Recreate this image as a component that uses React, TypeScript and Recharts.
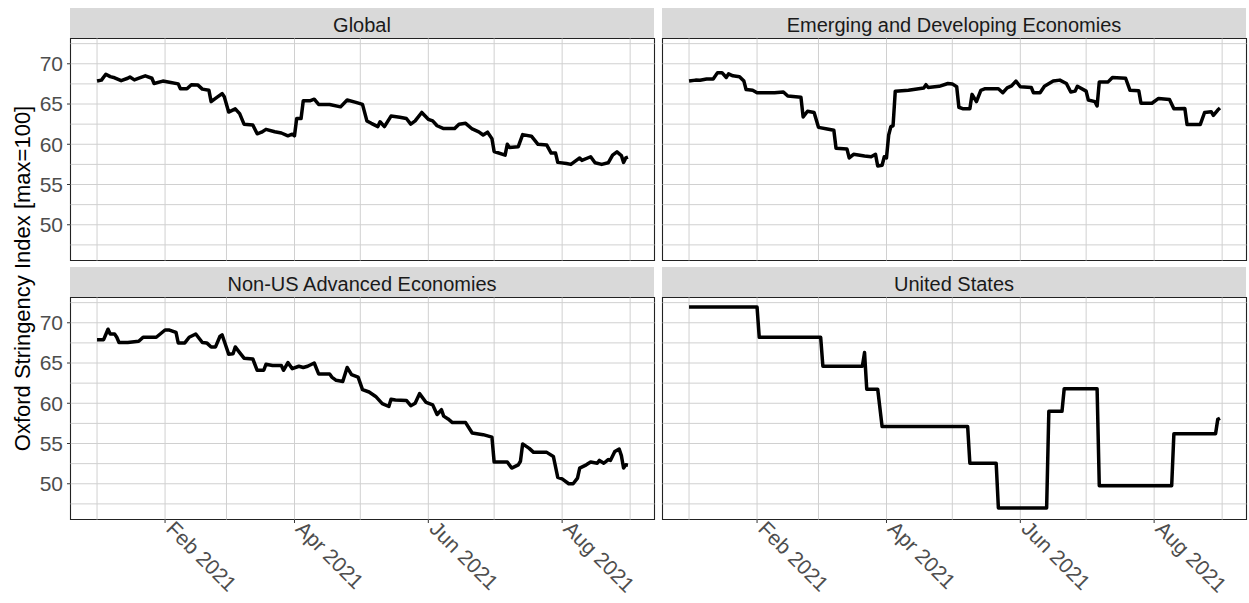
import React from 'react';
import { LineChart, Line, XAxis, YAxis, ReferenceLine, ReferenceArea } from 'recharts';

// x = days since 1 Jan 2021, y = Oxford Stringency Index
const globalSeries: [number, number][] = [
  [0, 67.85], [2, 67.97], [4, 68.7], [6, 68.4], [8, 68.26], [11, 67.9], [14, 68.2], [15, 68.35], [17, 68.0], [20, 68.3],
  [22, 68.5], [25, 68.2], [26, 67.55], [30, 67.85], [33, 67.7], [37, 67.5], [38, 66.9], [41, 66.9], [43, 67.4], [46, 67.35],
  [48, 66.85], [51, 66.7], [52, 65.3], [54, 65.7], [57, 66.3], [58, 65.9], [60, 64.0], [63, 64.4], [65, 63.8], [67, 62.5],
  [71, 62.4], [73, 61.3], [75, 61.5], [77, 61.85], [81, 61.55], [84, 61.4], [87, 61.05], [89, 61.25], [90, 61.05], [91, 63.2],
  [93, 63.2], [94, 65.4], [97, 65.4], [99, 65.6], [101, 64.95], [106, 64.95], [111, 64.65], [114, 65.5], [118, 65.2], [121, 64.95],
  [123, 62.9], [125, 62.6], [128, 62.2], [129, 62.8], [131, 62.2], [134, 63.5], [138, 63.35], [141, 63.2], [143, 62.5], [145, 62.9],
  [148, 63.95], [151, 63.1], [153, 62.9], [155, 62.3], [158, 61.95], [163, 61.95], [165, 62.5], [168, 62.6], [171, 61.9], [174, 61.55],
  [176, 61.15], [178, 61.5], [180, 60.7], [181, 59.1], [186, 58.65], [187, 60.0], [188, 59.6], [192, 59.7], [194, 61.2], [198, 61.0],
  [201, 60.0], [205, 59.9], [207, 58.9], [209, 58.9], [210, 57.75], [214, 57.6], [216, 57.5], [220, 58.3], [221, 58.0], [225, 58.45],
  [227, 57.7], [230, 57.5], [233, 57.7], [235, 58.65], [237, 59.05], [239, 58.6], [240, 57.75], [241, 58.3], [242, 58.4],
];

const emergingSeries: [number, number][] = [
  [0, 67.85], [3, 67.97], [5, 67.95], [8, 68.1], [11, 68.1], [13, 68.9], [15, 68.9], [17, 68.3], [18, 68.75], [20, 68.5],
  [23, 68.4], [25, 67.85], [26, 66.8], [29, 66.7], [31, 66.4], [39, 66.4], [43, 66.5], [45, 66.0], [51, 65.85], [52, 63.4],
  [54, 64.1], [57, 63.95], [59, 62.1], [63, 61.9], [66, 61.75], [67, 59.5], [72, 59.4], [73, 58.3], [75, 58.75], [80, 58.55],
  [83, 58.45], [85, 58.75], [86, 57.3], [88, 57.4], [89, 58.45], [90, 58.3], [91, 61.15], [92, 62.2], [93, 62.3], [94, 66.6],
  [100, 66.7], [107, 67.0], [108, 67.4], [109, 67.05], [114, 67.2], [118, 67.55], [120, 67.5], [122, 67.15], [123, 64.6], [125, 64.4],
  [128, 64.4], [129, 66.2], [131, 65.3], [133, 66.7], [135, 66.9], [141, 66.9], [143, 66.4], [145, 67.0], [147, 67.25], [149, 67.85],
  [151, 67.15], [156, 67.05], [157, 66.4], [160, 66.4], [162, 67.2], [166, 67.85], [169, 67.97], [172, 67.55], [174, 66.5], [176, 66.6],
  [177, 67.2], [181, 66.6], [182, 65.5], [185, 65.3], [186, 64.75], [187, 67.75], [191, 67.75], [193, 68.3], [199, 68.2], [201, 66.7],
  [205, 66.65], [206, 65.1], [211, 65.1], [214, 65.7], [219, 65.55], [221, 64.4], [226, 64.45], [227, 62.45], [233, 62.45], [235, 63.95],
  [238, 64.05], [239, 63.6], [241, 64.25], [242, 64.5],
];

const nonUsSeries: [number, number][] = [
  [0, 67.9], [2, 67.9], [3, 67.9], [5, 69.2], [6, 68.6], [8, 68.6], [9, 68.2], [10, 67.55], [14, 67.55], [19, 67.7],
  [21, 68.2], [27, 68.2], [31, 69.1], [33, 69.1], [36, 68.8], [37, 67.5], [40, 67.5], [42, 68.2], [45, 68.6], [48, 67.55],
  [50, 67.5], [52, 67.0], [54, 67.0], [56, 68.3], [57, 68.5], [58, 67.7], [60, 66.1], [62, 66.15], [63, 67.0], [65, 66.3],
  [67, 65.6], [71, 65.5], [73, 64.1], [76, 64.1], [77, 64.85], [80, 64.7], [84, 64.7], [85, 64.1], [87, 65.05], [89, 64.3],
  [92, 64.6], [94, 64.45], [96, 64.6], [99, 65.0], [101, 63.65], [106, 63.65], [107, 63.25], [109, 62.85], [112, 62.7], [114, 64.45],
  [116, 63.55], [119, 63.25], [121, 61.7], [124, 61.4], [127, 60.85], [130, 59.95], [133, 59.6], [134, 60.5], [136, 60.4], [141, 60.35],
  [143, 59.7], [145, 60.0], [147, 61.2], [150, 60.1], [153, 59.8], [155, 58.6], [157, 59.2], [158, 58.4], [160, 58.05], [162, 57.6],
  [168, 57.6], [171, 56.3], [176, 56.1], [180, 55.8], [181, 52.7], [187, 52.7], [189, 51.95], [192, 52.35], [193, 52.8], [194, 54.95],
  [197, 54.4], [199, 53.9], [205, 53.9], [208, 53.4], [210, 50.8], [212, 50.6], [215, 50.0], [217, 50.0], [219, 50.7], [220, 51.95],
  [223, 52.35], [225, 52.7], [228, 52.55], [229, 52.9], [231, 52.55], [233, 53.0], [234, 52.9], [236, 54.0], [238, 54.3], [239, 53.5],
  [240, 51.95], [241, 52.35], [242, 52.3],
];

const usSeries: [number, number][] = [
  [0, 71.95], [31, 71.95], [32, 68.2], [60, 68.2], [61, 64.6], [79, 64.6], [80, 66.3], [81, 61.75], [86, 61.75], [88, 57.1],
  [127, 57.1], [128, 52.55], [140, 52.55], [141, 47.0], [163, 47.0], [164, 59.0], [170, 59.0], [171, 61.8], [186, 61.8], [187, 49.75],
  [220, 49.75], [221, 56.2], [240, 56.2], [241, 58.0], [242, 58.15],
];

const panelTitles = ['Global', 'Emerging and Developing Economies', 'Non-US Advanced Economies', 'United States'];
const majorDays = [31, 90, 151, 212];
const majorLabels = ['Feb 2021', 'Apr 2021', 'Jun 2021', 'Aug 2021'];
const minorDays = [0, 59, 120, 181, 243];
const yMajor = [50, 55, 60, 65, 70];
const yMinor = [47.5, 52.5, 57.5, 62.5, 67.5, 72.5];

const X_DOMAIN: [number, number] = [-12.1, 254.1];
const Y_DOMAIN: [number, number] = [45.56, 73.14];
const PLOT_W = 584;
const PLOT_H = 222;
const FONT = '"Liberation Sans", Arial, sans-serif';
const GRID = '#d0d0d0';

const DateTick = ({ x, y, payload }: any) => {
  const i = majorDays.indexOf(payload.value);
  return (
    <text
      x={x}
      y={y}
      transform={`rotate(45, ${x}, ${y})`}
      textAnchor="start"
      dx={5}
      dy={5}
      fontSize={21}
      fontFamily={FONT}
      fill="#4d4d4d"
    >
      {i >= 0 ? majorLabels[i] : ''}
    </text>
  );
};

interface PanelProps {
  series: [number, number][];
  plotLeft: number;
  plotTop: number;
  showX: boolean;
  showY: boolean;
}

const Panel = ({ series, plotLeft, plotTop, showX, showY }: PanelProps) => {
  const rows = series.map(([day, value]) => ({ day, value }));
  const yw = showY ? 70 : 0;
  const xh = showX ? 82 : 0;
  return (
    <div style={{ position: 'absolute', left: plotLeft - yw - 3, top: plotTop - 3 }}>
      <LineChart
        width={yw + PLOT_W + 6}
        height={PLOT_H + xh + 6}
        data={rows}
        margin={{ top: 3.5, right: 2.5, bottom: 2.5, left: 3.5 }}
      >
        <XAxis
          type="number"
          dataKey="day"
          domain={X_DOMAIN}
          ticks={majorDays}
          allowDataOverflow
          hide={!showX}
          height={xh}
          axisLine={false}
          tickLine={{ stroke: '#333333' }}
          tickSize={3.5}
          tickMargin={0}
          tick={<DateTick />}
          interval={0}
        />
        <YAxis
          type="number"
          domain={Y_DOMAIN}
          ticks={yMajor}
          allowDataOverflow
          hide={!showY}
          width={yw}
          axisLine={false}
          tickLine={{ stroke: '#333333' }}
          tickSize={3.5}
          tickMargin={4}
          interval={0}
          tick={{ fontSize: 21, fill: '#4d4d4d', fontFamily: FONT }}
        />
        {minorDays.concat(majorDays).map((d) => (
          <ReferenceLine key={'v' + d} x={d} stroke={GRID} strokeWidth={1} />
        ))}
        {yMinor.concat(yMajor).map((v) => (
          <ReferenceLine key={'h' + v} y={v} stroke={GRID} strokeWidth={1} />
        ))}
        <ReferenceArea
          x1={X_DOMAIN[0]}
          x2={X_DOMAIN[1]}
          y1={Y_DOMAIN[0]}
          y2={Y_DOMAIN[1]}
          fill="none"
          fillOpacity={0}
          stroke="#222222"
          strokeWidth={1.1}
          ifOverflow="extendDomain"
        />
        <Line
          type="linear"
          dataKey="value"
          stroke="#000000"
          strokeWidth={3.5}
          strokeLinejoin="round"
          dot={false}
          activeDot={false}
          isAnimationActive={false}
        />
      </LineChart>
    </div>
  );
};

const panels = [
  { series: globalSeries, plotLeft: 70, plotTop: 38, showX: false, showY: true },
  { series: emergingSeries, plotLeft: 662, plotTop: 38, showX: false, showY: false },
  { series: nonUsSeries, plotLeft: 70, plotTop: 297, showX: true, showY: true },
  { series: usSeries, plotLeft: 662, plotTop: 297, showX: true, showY: false },
];

export default function App() {
  return (
    <div
      style={{
        position: 'absolute',
        left: 0,
        top: 0,
        width: 1249,
        height: 603,
        background: '#ffffff',
        overflow: 'hidden',
        fontFamily: FONT,
      }}
    >
      <svg width={1249} height={603} style={{ position: 'absolute', left: 0, top: 0 }}>
        {panels.map((p, i) => (
          <g key={i}>
            <rect x={p.plotLeft} y={p.plotTop - 30} width={PLOT_W} height={30} fill="#d9d9d9" />
            <text
              x={p.plotLeft + PLOT_W / 2}
              y={p.plotTop - 6}
              textAnchor="middle"
              fontSize={20}
              fontFamily={FONT}
              fill="#1a1a1a"
            >
              {panelTitles[i]}
            </text>
          </g>
        ))}
        <text
          transform="translate(29.5, 278.5) rotate(-90)"
          textAnchor="middle"
          fontSize={22}
          fontFamily={FONT}
          fill="#000000"
        >
          Oxford Stringency Index [max=100]
        </text>
      </svg>
      {panels.map((p, i) => (
        <Panel key={i} {...p} />
      ))}
    </div>
  );
}
